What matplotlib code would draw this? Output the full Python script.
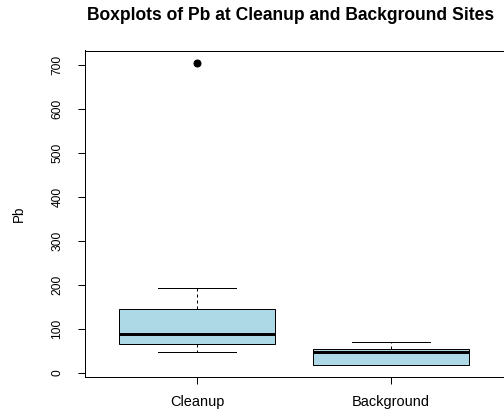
import numpy as np
import matplotlib.pyplot as plt

plt.rcParams['font.family'] = ['Liberation Sans', 'DejaVu Sans']

# summary values
groups = ['Cleanup', 'Background']
whislo = [47, 18]
q1 = [66, 18]
med = [88, 48]
q3 = [145, 55]
whishi = [192, 71]
fliers = [[705], []]

stats = []
for i in range(len(groups)):
    stats.append({'label': groups[i], 'whislo': whislo[i], 'q1': q1[i], 'med': med[i],
                  'q3': q3[i], 'whishi': whishi[i], 'fliers': fliers[i]})

fig = plt.figure(figsize=(504 / 72, 416 / 72), dpi=72)
ax = fig.add_axes([84.5 / 504, 39 / 416, 419 / 504, 326.5 / 416])

ax.bxp(stats, positions=[1, 2], widths=0.8, patch_artist=True,
       boxprops=dict(facecolor='#ADD8E6', edgecolor='black', linewidth=1),
       whiskerprops=dict(color='black', linewidth=1, linestyle=(0, (3, 3))),
       capprops=dict(color='black', linewidth=1),
       medianprops=dict(color='black', linewidth=3, solid_capstyle='butt'),
       flierprops=dict(marker='o', markerfacecolor='black', markeredgecolor='black', markersize=7),
       capwidths=0.4)

lo = min(whislo)
hi = max(max(f) if f else 0 for f in fliers)
pad = (hi - lo) * 0.04
ax.set_ylim(lo - pad, hi + pad)
ax.set_xlim(0.42, 2.58)

ax.set_yticks(np.arange(0, 701, 100))
ax.set_yticklabels([str(v) for v in range(0, 701, 100)], rotation=90, va='center', fontsize=12)
ax.set_xticks([1, 2])
ax.set_xticklabels(groups, fontsize=14.5)
ax.tick_params(axis='both', length=7, width=1)
ax.tick_params(axis='x', pad=11)
ax.tick_params(axis='y', pad=14)

for s in ax.spines.values():
    s.set_linewidth(1)

ax.set_ylabel('Pb', fontsize=13.5, labelpad=26)
fig.text(291 / 504, 1 - 16 / 416, 'Boxplots of Pb at Cleanup and Background Sites',
         ha='center', va='center', fontsize=17.5, fontweight='bold')

fig.savefig('out.png', dpi=72)
